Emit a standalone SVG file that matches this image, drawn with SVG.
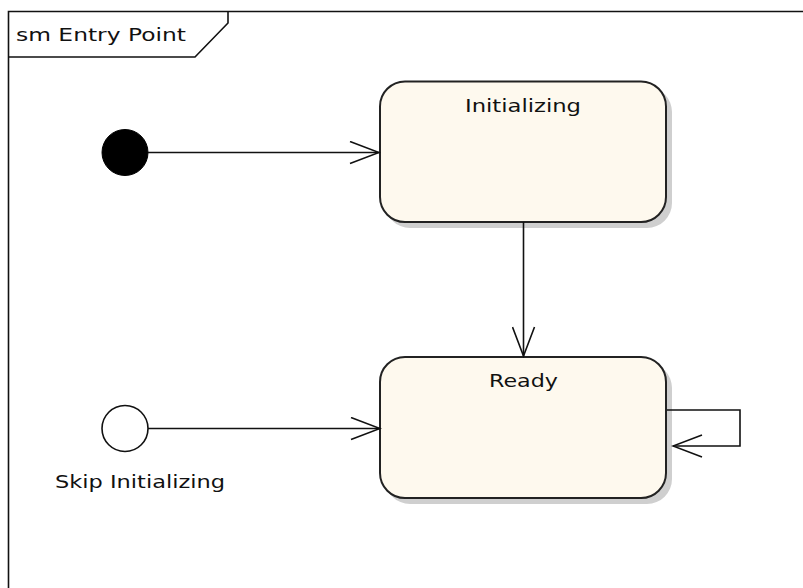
<svg xmlns="http://www.w3.org/2000/svg" width="803" height="588" viewBox="0 0 803 588">
  <defs>
    <style>
      .frame { fill: none; stroke: #111; stroke-width: 1.6; }
      .state { fill: #FEF9EE; stroke: #222; stroke-width: 2; }
      .shadow { fill: #CFCFCF; }
      .lbl { font-family: "DejaVu Sans", "Liberation Sans", sans-serif; font-size: 18px; fill: #111; }
      .conn { fill: none; stroke: #111; stroke-width: 1.6; }
    </style>
    <marker id="open" viewBox="0 0 32 24" markerWidth="32" markerHeight="24" refX="30" refY="12" orient="auto" markerUnits="userSpaceOnUse">
      <path d="M1,1 L30,12 L1,23" fill="none" stroke="#111" stroke-width="1.6"/>
    </marker>
  </defs>

  <g id="frame">
    <path class="frame" d="M8.5,588 V11.5 H803"/>
    <path class="frame" d="M8.5,57 H195 L228,23 V11.5"/>
    <text class="lbl" x="16" y="41" textLength="170" lengthAdjust="spacingAndGlyphs">sm Entry Point</text>
  </g>

  <g id="initial">
    <circle cx="125" cy="152.5" r="23" fill="#000" stroke="#000" stroke-width="1"/>
  </g>

  <g id="entry-point">
    <circle cx="125" cy="428.5" r="23" fill="#fff" stroke="#111" stroke-width="1.6"/>
    <text class="lbl" x="55" y="488" textLength="170" lengthAdjust="spacingAndGlyphs">Skip Initializing</text>
  </g>

  <g id="initializing">
    <rect class="shadow" x="385" y="87" width="287" height="141" rx="25" ry="25"/>
    <rect class="state" x="380" y="81.5" width="286" height="140.5" rx="25" ry="25"/>
    <text class="lbl" x="465" y="112" textLength="116" lengthAdjust="spacingAndGlyphs">Initializing</text>
  </g>

  <g id="ready">
    <rect class="shadow" x="385" y="363" width="287" height="141" rx="25" ry="25"/>
    <rect class="state" x="380" y="357" width="286" height="141" rx="25" ry="25"/>
    <text class="lbl" x="489" y="387" textLength="69" lengthAdjust="spacingAndGlyphs">Ready</text>
  </g>

  <g id="connectors">
    <line class="conn" x1="148" y1="152.5" x2="379" y2="152.5" marker-end="url(#open)"/>
    <line class="conn" x1="148" y1="428.5" x2="380" y2="428.5" marker-end="url(#open)"/>
    <line class="conn" x1="523.5" y1="222" x2="523.5" y2="356" marker-end="url(#open)"/>
    <path class="conn" d="M667,410 H740 V446 H673" marker-end="url(#open)"/>
  </g>
</svg>
